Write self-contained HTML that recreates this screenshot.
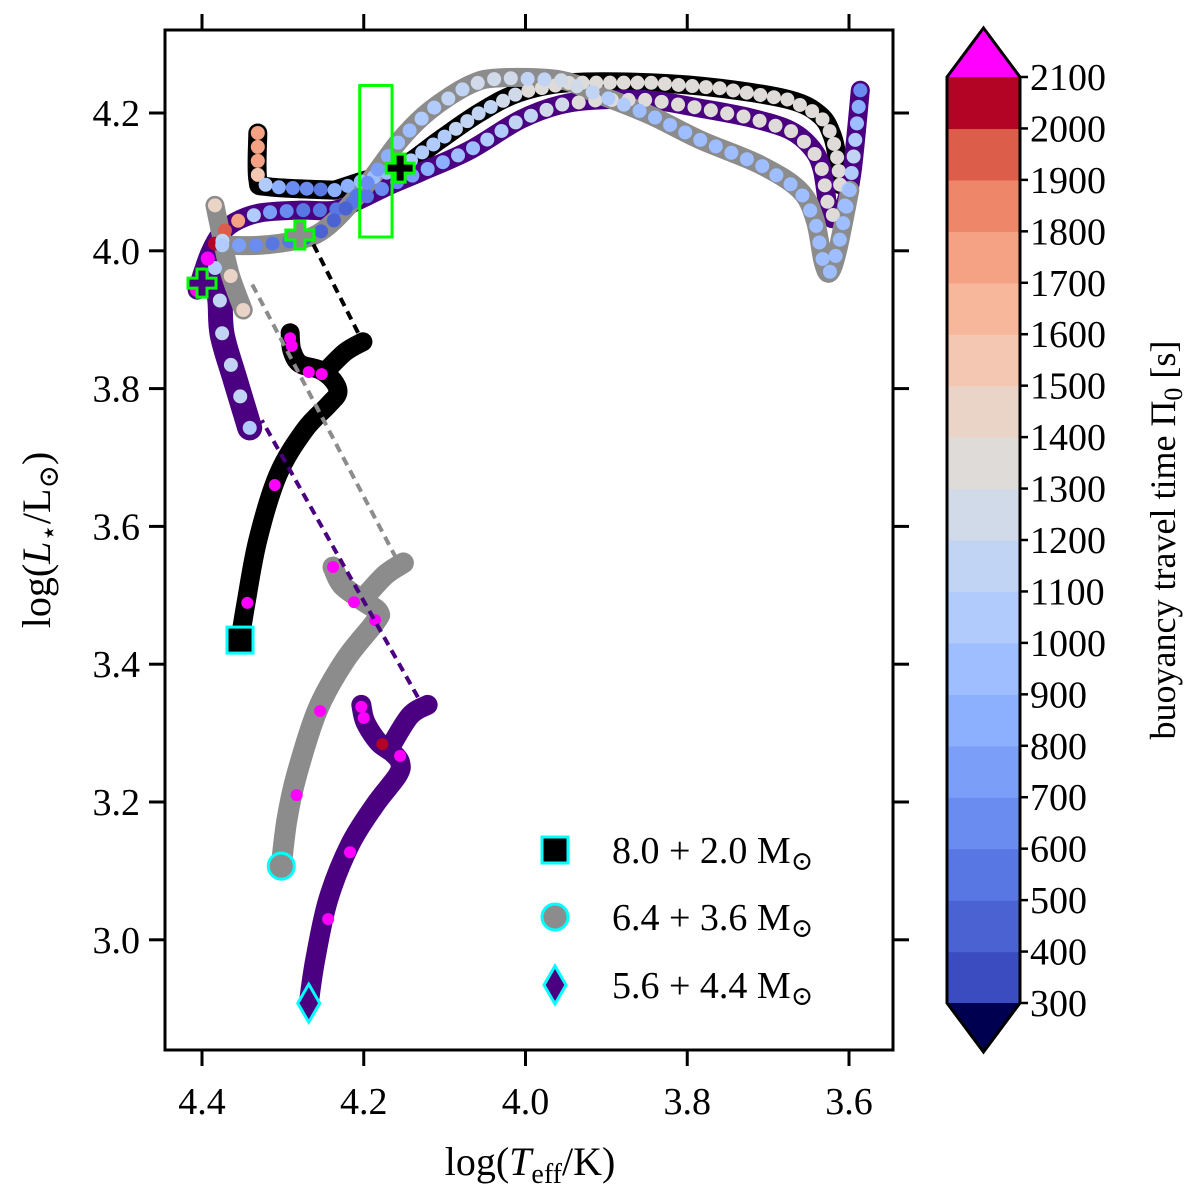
<!DOCTYPE html>
<html><head><meta charset="utf-8"><title>HRD buoyancy travel time</title>
<style>
html,body{margin:0;padding:0;background:#fff;}
svg, svg text{font-family:"Liberation Serif","DejaVu Serif",serif;}
svg{display:block;}
</style></head>
<body>
<svg id="chart" width="1200" height="1200" viewBox="0 0 1200 1200" xmlns="http://www.w3.org/2000/svg" font-family="Liberation Serif, serif">
<g id="tracks"></g>
<g id="dots"></g>
<g id="overlay"></g>
<rect x="165" y="30" width="728" height="1020" fill="none" stroke="#000" stroke-width="3"/>
<g id="axes" font-family="Liberation Serif, serif"></g>
<g id="cbar" font-family="Liberation Serif, serif"></g>
<g id="legend" font-family="Liberation Serif, serif"></g>
<text x="530" y="1175" font-size="40" text-anchor="middle" font-family="Liberation Serif, serif">log(<tspan font-style="italic">T</tspan><tspan font-size="28" dy="8">eff</tspan><tspan dy="-8">/K)</tspan></text>
<text transform="translate(50,540) rotate(-90)" font-size="40" text-anchor="middle" font-family="Liberation Serif, serif">log(<tspan font-style="italic">L</tspan><tspan font-size="28" dy="8">⋆</tspan><tspan dy="-8">/L</tspan><tspan font-size="28" dy="8">⊙</tspan><tspan dy="-8">)</tspan></text>
<text transform="translate(1175,540) rotate(-90)" font-size="36" text-anchor="middle" font-family="Liberation Serif, serif">buoyancy travel time Π<tspan font-size="26" dy="7">0</tspan><tspan dy="-7"> [s]</tspan></text>
</svg>
<script>
const NS="http://www.w3.org/2000/svg";
// axis ticks
const xTicks=[4.4,4.2,4.0,3.8,3.6];
const yTicks=[3.0,3.2,3.4,3.6,3.8,4.0,4.2];
const cbarLevels=[300,400,500,600,700,800,900,1000,1100,1200,1300,1400,1500,1600,1700,1800,1900,2000,2100];
const cbarColors=["#3b4cc0","#4a62d2","#5977e3","#6a8bef","#7b9ff9","#8db0fe","#9ebeff","#b0cbfc","#c1d4f4","#d1dae9","#dfdbd9","#ead4c8","#f3c7b1","#f6b79b","#f4a283","#ee8669","#dc5d4a","#b40426"];
// lower tracks (logT, logL)
const blackLowT=[4.353,4.346,4.331,4.306,4.273,4.244,4.232,4.238,4.254,4.279,4.289,4.291];
const blackLowL=[3.435,3.486,3.580,3.675,3.740,3.776,3.794,3.812,3.827,3.836,3.856,3.881];
const blackArmT=[4.248,4.223,4.201];
const blackArmL=[3.824,3.853,3.868];
const grayLowT=[4.302,4.295,4.283,4.257,4.223,4.186,4.182,4.202,4.227,4.238];
const grayLowL=[3.107,3.174,3.239,3.334,3.406,3.461,3.476,3.493,3.515,3.541];
const grayArmT=[4.202,4.174,4.151];
const grayArmL=[3.493,3.529,3.547];
const purpLowT=[4.268,4.260,4.244,4.217,4.186,4.158,4.155,4.164,4.182,4.198,4.203];
const purpLowL=[2.908,2.971,3.058,3.138,3.196,3.239,3.257,3.271,3.287,3.316,3.341];
const purpArmT=[4.168,4.143,4.121];
const purpArmL=[3.278,3.325,3.341];
// upper tracks
const blackHookT=[4.331,4.331,4.318,4.236];
const blackHookL=[4.171,4.104,4.093,4.088];
const blackMainT=[4.236,4.205,4.155,4.106,4.056,4.007,3.945,3.846,3.760,3.673,3.636,3.621,3.614,3.611];
const blackMainL=[4.088,4.100,4.120,4.161,4.201,4.230,4.244,4.244,4.236,4.219,4.197,4.168,4.132,4.096];
const grayBranchT=[4.384,4.375,4.365,4.349];
const grayBranchL=[4.066,4.016,3.965,3.914];
const grayMainT=[4.375,4.328,4.279,4.254,4.229,4.192,4.155,4.118,4.069,4.032,3.957,3.908,3.846,3.784,3.710,3.661,3.642,3.632,3.624,3.614,3.599];
const grayMainL=[4.008,4.008,4.016,4.027,4.052,4.103,4.161,4.204,4.241,4.251,4.248,4.226,4.197,4.161,4.125,4.088,4.045,3.984,3.968,4.001,4.088];
const purpMainT=[4.406,4.399,4.390,4.378,4.359,4.328,4.279,4.236,4.205,4.168,4.130,4.069,4.007,3.957,3.908,3.846,3.784,3.722,3.673,3.646,3.633,3.624,3.614,3.605,3.596,3.586];
const purpMainL=[3.943,3.969,3.998,4.023,4.042,4.055,4.059,4.059,4.074,4.095,4.114,4.146,4.190,4.212,4.219,4.219,4.207,4.193,4.175,4.149,4.117,4.052,4.052,4.066,4.117,4.233];
const purpBandT=[4.341,4.359,4.375,4.378,4.384];
const purpBandL=[3.743,3.813,3.878,3.929,3.975];
// Pi0 values along upper tracks
const blackHookPi=[1750,1750,1700,1550,1050,800,650,600,550,500];
const blackMainPi=[850,850,900,900,950,950,1000,1000,1050,1050,1100,1100,1150,1150,1200,1250,1300,1300,1300,1300,1300,1300,1300,1350,1350,1300,1300,1300,1300,1300,1300,1300,1300,1300,1300,1300,1300,1300,1300,1300,1300,1300,1300,1300];
const grayBranchPi=[1400,1150,1400,1400];
const grayMainPi=[1000,700,600,550,500,450,450,430,450,500,650,700,800,900,950,1000,1050,1100,1150,1200,1200,1200,1150,1150,1200,1200,1100,1050,1000,950,950,900,900,900,900,900,900,900,900,900,900,900,900,900,900,900,900,950,900,900,900];
const purpMainPi=[2200,2200,2200,2050,1900,1700,1000,700,600,550,500,500,500,550,600,650,700,800,850,900,950,1000,1050,1100,1150,1200,1250,1300,1300,1300,1300,1300,1300,1300,1300,1300,1300,1300,1300,1300,1300,1300,1300,1300,1300,1300,1300,900,1000,1050,1100,1000,900,800,650];
const purpBandPi=[1050,1100,1100,1150,1100,1050];
// discrete points on lower tracks (Pi0 > 2100 shown magenta)
const blackPtT=[4.344,4.310,4.291,4.289,4.268,4.252];
const blackPtL=[3.489,3.660,3.873,3.862,3.824,3.821];
const blackPtPi=[2200,2200,2200,2200,2200,2200];
const grayPtT=[4.238,4.212,4.186,4.254,4.283];
const grayPtL=[3.541,3.490,3.464,3.332,3.210];
const grayPtPi=[2200,2200,2200,2200,2200];
const purpPtT=[4.203,4.200,4.155,4.217,4.244,4.177];
const purpPtL=[3.338,3.322,3.267,3.127,3.030,3.284];
const purpPtPi=[2200,2200,2200,2200,2200,2050];
// mass-transfer dashed links
const linkBlackT=[4.207,4.263], linkBlackL=[3.881,4.011];
const linkGrayT=[4.160,4.341], linkGrayL=[3.554,3.958];
const linkPurpT=[4.133,4.326], linkPurpL=[3.352,3.754];
// crosses
const crossT=[4.155,4.279,4.400];
const crossL=[4.120,4.023,3.953];
const crossFill=["#000000","#8c8c8c","#4b0082"];
// green box
const boxT=[4.205,4.165], boxL=[4.24,4.02];
// legend
const legendLabels=["8.0 + 2.0","6.4 + 3.6","5.6 + 4.4"];

const sx=T=>202+(4.4-T)*808.75;
const sy=L=>113+(4.2-L)*689;
const piColor=v=>{ if(v>2100) return "#ff00ff"; if(v<300) return "#000080";
  let i=Math.min(17,Math.floor((v-300)/100)); return cbarColors[i]; };

const gT=document.getElementById('tracks'),gD=document.getElementById('dots'),gO=document.getElementById('overlay');
function mk(tag,attrs,parent){const e=document.createElementNS(NS,tag);for(const k in attrs)e.setAttribute(k,attrs[k]);parent.appendChild(e);return e;}
function pts(T,L){return T.map((t,i)=>[sx(t),sy(L[i])]);}
function smoothPath(P){
  if(P.length<3)return 'M'+P.map(p=>p.join(',')).join('L');
  let d=`M${P[0][0]},${P[0][1]}`;
  for(let i=0;i<P.length-1;i++){
    const p0=P[Math.max(0,i-1)],p1=P[i],p2=P[i+1],p3=P[Math.min(P.length-1,i+2)];
    const c1=[p1[0]+(p2[0]-p0[0])/6,p1[1]+(p2[1]-p0[1])/6];
    const c2=[p2[0]-(p3[0]-p1[0])/6,p2[1]-(p3[1]-p1[1])/6];
    d+=`C${c1[0]},${c1[1]} ${c2[0]},${c2[1]} ${p2[0]},${p2[1]}`;
  }
  return d;
}
function track(T,L,color,name,w){
  const e=mk('path',{d:smoothPath(pts(T,L)),fill:'none',stroke:color,'stroke-width':w||19,'stroke-linecap':'round','stroke-linejoin':'round'},gT);
  
  
}
function dotsAlong(T,L,vals,name){
  const P=pts(T,L);const seg=[0];
  for(let i=1;i<P.length;i++)seg.push(seg[i-1]+Math.hypot(P[i][0]-P[i-1][0],P[i][1]-P[i-1][1]));
  const tot=seg[seg.length-1];
  vals.forEach((v,i)=>{
    const d=vals.length>1?tot*i/(vals.length-1):0;
    let k=1;while(k<P.length-1&&seg[k]<d)k++;
    const f=(d-seg[k-1])/((seg[k]-seg[k-1])||1);
    const x=P[k-1][0]+f*(P[k][0]-P[k-1][0]),y=P[k-1][1]+f*(P[k][1]-P[k-1][1]);
    const c=mk('circle',{cx:x,cy:y,r:7,fill:piColor(v)},gD);
    
    
  });
}
function pointDots(T,L,vals,name){
  T.forEach((t,i)=>{
    const c=mk('circle',{cx:sx(t),cy:sy(L[i]),r:6,fill:piColor(vals[i])},gD);
    
    
  });
}
function dashed(T,L,color,name){
  const e=mk('line',{x1:sx(T[0]),y1:sy(L[0]),x2:sx(T[1]),y2:sy(L[1]),stroke:color,'stroke-width':4,'stroke-dasharray':'9,6'},gO);
  
  
}
// tracks
track(blackLowT,blackLowL,'#000','black-track-lower');
track(blackArmT,blackArmL,'#000','black-track-lower-arm');
track(grayLowT,grayLowL,'#8c8c8c','gray-track-lower',21);
track(grayArmT,grayArmL,'#8c8c8c','gray-track-lower-arm',21);
track(purpLowT,purpLowL,'#4b0082','purple-track-lower',20);
track(purpArmT,purpArmL,'#4b0082','purple-track-lower-arm',20);
track(blackHookT,blackHookL,'#000','black-track-hook');
track(blackMainT,blackMainL,'#000','black-track-upper');
track(purpBandT,purpBandL,'#4b0082','purple-track-band',25);
track(purpMainT,purpMainL,'#4b0082','purple-track-upper');
track(grayBranchT,grayBranchL,'#8c8c8c','gray-track-branch');
track(grayMainT,grayMainL,'#8c8c8c','gray-track-upper');
// dots
dotsAlong(blackHookT,blackHookL,blackHookPi,'black-hook-dot');
dotsAlong(blackMainT,blackMainL,blackMainPi,'black-upper-dot');
dotsAlong(purpBandT,purpBandL,purpBandPi,'purple-band-dot');
dotsAlong(purpMainT,purpMainL,purpMainPi,'purple-upper-dot');
dotsAlong(grayBranchT,grayBranchL,grayBranchPi,'gray-branch-dot');
dotsAlong(grayMainT,grayMainL,grayMainPi,'gray-upper-dot');
pointDots(blackPtT,blackPtL,blackPtPi,'black-lower-dot');
pointDots(grayPtT,grayPtL,grayPtPi,'gray-lower-dot');
pointDots(purpPtT,purpPtL,purpPtPi,'purple-lower-dot');
// dashed links
dashed(linkBlackT,linkBlackL,'#000','black-mass-transfer-link');
dashed(linkGrayT,linkGrayL,'#8c8c8c','gray-mass-transfer-link');
dashed(linkPurpT,linkPurpL,'#4b0082','purple-mass-transfer-link');
// green box
{const e=mk('rect',{x:sx(boxT[0]),y:sy(boxL[0]),width:sx(boxT[1])-sx(boxT[0]),height:sy(boxL[1])-sy(boxL[0]),fill:'none',stroke:'#00ff00','stroke-width':3},gO);

}
// crosses
crossT.forEach((t,i)=>{
  const x=sx(t),y=sy(crossL[i]);
  const p=`M${x-5},${y-14}h10v9h9v10h-9v9h-10v-9h-9v-10h9z`;
  const e=mk('path',{d:p,fill:crossFill[i],stroke:'#00ff00','stroke-width':3},gO);
  
  
});
// start markers
{let e=mk('rect',{x:sx(blackLowT[0])-13,y:sy(blackLowL[0])-13,width:26,height:26,fill:'#000',stroke:'#00ffff','stroke-width':3},gO);


e=mk('circle',{cx:sx(grayLowT[0]),cy:sy(grayLowL[0]),r:13,fill:'#8c8c8c',stroke:'#00ffff','stroke-width':3},gO);


const dx=sx(purpLowT[0]),dy=sy(purpLowL[0]);
e=mk('path',{d:`M${dx},${dy-19}L${dx+11},${dy}L${dx},${dy+19}L${dx-11},${dy}Z`,fill:'#4b0082',stroke:'#00ffff','stroke-width':3},gO);

}
// axes ticks
const gA=document.getElementById('axes');
const SERIF='Liberation Serif, serif';
xTicks.forEach(t=>{
  const x=sx(t);
  let e=mk('line',{x1:x,y1:1050,x2:x,y2:1066,stroke:'#000','stroke-width':3},gA);
  
  
  e=mk('line',{x1:x,y1:14,x2:x,y2:30,stroke:'#000','stroke-width':3},gA);
  
  
  e=mk('text',{x:x,y:1114,'font-size':38,'text-anchor':'middle','font-family':SERIF},gA);e.textContent=t.toFixed(1);
  
  
});
yTicks.forEach(t=>{
  const y=sy(t);
  let e=mk('line',{x1:149,y1:y,x2:165,y2:y,stroke:'#000','stroke-width':3},gA);
  
  
  e=mk('line',{x1:893,y1:y,x2:909,y2:y,stroke:'#000','stroke-width':3},gA);
  
  
  e=mk('text',{x:140,y:y+13,'font-size':38,'text-anchor':'end','font-family':SERIF},gA);e.textContent=t.toFixed(1);
  
  
});
// colorbar
const gC=document.getElementById('cbar');
const cx0=947,cw=73,cTop=77,cBot=1003,nb=cbarColors.length,bh=(cBot-cTop)/nb;
cbarColors.forEach((c,i)=>{
  const e=mk('rect',{x:cx0,y:cBot-(i+1)*bh,width:cw,height:bh+0.6,fill:c},gC);
  
  
});
{let e=mk('path',{d:`M${cx0},${cTop}L${cx0+cw/2},28L${cx0+cw},${cTop}Z`,fill:'#ff00ff'},gC);


e=mk('path',{d:`M${cx0},${cBot}L${cx0+cw/2},1052L${cx0+cw},${cBot}Z`,fill:'#000050'},gC);


e=mk('path',{d:`M${cx0},${cTop}L${cx0+cw/2},28L${cx0+cw},${cTop}V${cBot}L${cx0+cw/2},1052L${cx0},${cBot}Z`,fill:'none',stroke:'#000','stroke-width':3},gC);

}
cbarLevels.forEach((v,i)=>{
  const y=cBot-i*bh;
  let e=mk('line',{x1:cx0+cw,y1:y,x2:cx0+cw+8,y2:y,stroke:'#000','stroke-width':2.5},gC);
  
  
  e=mk('text',{x:1030,y:y+13,'font-size':38,'font-family':SERIF},gC);e.textContent=v;
  
  
});
// legend
const gL=document.getElementById('legend');
const legY=[850,917,985];
legendLabels.forEach((lab,i)=>{
  const y=legY[i];let m;
  if(i===0)m=mk('rect',{x:542,y:y-13,width:26,height:26,fill:'#000',stroke:'#00ffff','stroke-width':3},gL);
  else if(i===1)m=mk('circle',{cx:555,cy:y,r:13,fill:'#8c8c8c',stroke:'#00ffff','stroke-width':3},gL);
  else m=mk('path',{d:`M555,${y-19}L566,${y}L555,${y+19}L544,${y}Z`,fill:'#4b0082',stroke:'#00ffff','stroke-width':3},gL);
  
  
  const t=mk('text',{x:612,y:y+13,'font-size':38,'font-family':SERIF},gL);
  
  
  t.textContent=lab+' M';
  const s=mk('tspan',{'font-size':27,dy:7},t);s.textContent='⊙';
});
</script>
</body></html>
